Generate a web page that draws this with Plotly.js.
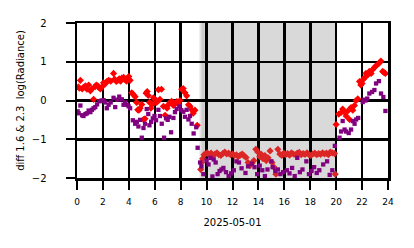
<!DOCTYPE html>
<html>
<head>
<meta charset="utf-8">
<script src="https://cdn.plot.ly/plotly-3.0.1.min.js"></script>
<style>html,body{margin:0;padding:0;background:#fff;}#chart{width:414px;height:248px;}</style>
</head>
<body>
<div id="chart"></div>
<script>
// Hours of day (2025-05-01) and diff values
const dateLabel = "2025-05-01";
const yTitle = "diff 1.6 & 2.3\u00a0 log(Radiance)";
const xTicks = [0, 2, 4, 6, 8, 10, 12, 14, 16, 18, 20, 22, 24];
const yTicks = [-2, -1, 0, 1, 2];
const nightStart = 9.5;
const nightEnd = 19.95;

// red series (diamonds)
const redHours = [
  0.1, 0.18, 0.26, 0.4, 0.5, 0.65, 0.77, 0.9, 1.03, 1.15, 1.28, 1.4, 1.49, 1.6, 1.67, 1.8, 1.95, 2.05, 2.18, 2.3,
  2.44, 2.6, 2.82, 2.9, 3.03, 3.15, 3.26, 3.36, 3.46, 3.6, 3.72, 3.82, 3.9, 4.0, 4.1, 4.23, 4.35, 4.49, 4.6, 4.69,
  4.78, 4.87, 5.0, 5.13, 5.25, 5.33, 5.42, 5.5, 5.6, 5.7, 5.8, 5.9, 6.05, 6.15, 6.28, 6.4, 6.52, 6.67, 6.8, 6.95,
  7.05, 7.18, 7.3, 7.44, 7.55, 7.7, 7.85, 7.95, 8.08, 8.2, 8.33, 8.46, 8.6, 8.72, 8.85, 8.97, 9.1, 9.28,
  9.54, 9.62, 9.7, 9.8, 9.9, 10.05, 10.2, 10.35, 10.5, 10.65, 10.8, 10.95, 11.1, 11.25, 11.4, 11.55, 11.7, 11.85,
  12.0, 12.15, 12.3, 12.45, 12.6, 12.75, 12.9, 13.05, 13.2, 13.35, 13.5, 13.65, 13.8, 13.95, 14.1, 14.2, 14.35,
  14.5, 14.6, 14.75, 14.9, 15.05, 15.2, 15.35, 15.5, 15.65, 15.8, 15.95, 16.1, 16.25, 16.4, 16.55, 16.7, 16.85,
  17.0, 17.15, 17.3, 17.45, 17.6, 17.75, 17.9, 18.05, 18.2, 18.35, 18.5, 18.65, 18.8, 18.95, 19.1, 19.25, 19.4,
  19.55, 19.7, 19.87, 19.93,
  20.0, 20.2, 20.38, 20.5, 20.65, 20.77, 20.9, 21.03, 21.15, 21.28, 21.41, 21.54, 21.67, 21.8, 21.9, 22.0, 22.1,
  22.18, 22.3, 22.44, 22.56, 22.7, 22.82, 22.95, 23.08, 23.2, 23.33, 23.45, 23.59, 23.7, 23.8
];
const redValues = [
  0.35, 0.32, 0.52, 0.3, 0.34, 0.38, 0.29, 0.40, 0.25, 0.3, 0.03, 0.36, 0.40, 0.38, 0.34, 0.3, 0.36, 0.46, 0.43, 0.49,
  0.52, 0.5, 0.70, 0.55, 0.49, 0.52, 0.56, 0.5, 0.58, 0.6, 0.54, 0.5, 0.58, 0.62, 0.52, 0.2, 0.15, 0.1, -0.05, -0.24,
  -0.25, -0.2, -0.1, -0.49, -0.47, 0.19, 0.23, 0.13, -0.05, -0.2, -0.1, 0.07, 0.02, -0.05, 0.28, 0.03, 0.29, -0.15, -0.38, -0.2,
  -0.11, -0.05, -0.02, -0.13, -0.08, -0.03, -0.1, 0.0, 0.29, 0.31, 0.2, 0.12, -0.11, -0.15, -0.24, -0.33, -0.25, -0.64,
  -1.78, -1.6, -1.5, -1.4, -1.38, -1.35, -1.4, -1.36, -1.42, -1.38, -1.35, -1.4, -1.42, -1.37, -1.33, -1.38, -1.36, -1.4,
  -1.38, -1.42, -1.4, -1.45, -1.41, -1.38, -1.43, -1.47, -1.6, -1.68, -1.62, -1.55, -1.26, -1.33, -1.45, -1.38, -1.5,
  -1.42, -1.55, -1.48, -1.3, -1.6, -1.72, -1.9, -1.26, -1.38, -1.42, -1.36, -1.4, -1.37, -1.41, -1.35, -1.38, -1.4,
  -1.36, -1.34, -1.4, -1.37, -1.39, -1.35, -1.4, -1.42, -1.38, -1.36, -1.4, -1.37, -1.39, -1.35, -1.38, -1.36, -1.4,
  -1.33, -1.35, -1.37, -1.9,
  -0.62, -0.35, -0.31, -0.22, -0.3, -0.4, -0.27, -0.49, -0.18, -0.25, -0.13, 0.0, 0.04, 0.49, 0.4, 0.44, 0.55,
  0.58, 0.7, 0.66, 0.75, 0.7, 0.8, 0.85, 0.9, 0.93, 0.97, 1.02, 0.75, 0.72, 0.7
];

// purple series (squares)
const purpleHours = [
  0.05, 0.13, 0.26, 0.4, 0.5, 0.65, 0.77, 0.9, 1.03, 1.15, 1.28, 1.41, 1.55, 1.74, 1.9, 2.05, 2.18, 2.3, 2.44, 2.6,
  2.82, 2.95, 3.1, 3.26, 3.46, 3.59, 3.72, 3.85, 3.98, 4.1, 4.31, 4.49, 4.62, 4.74, 4.87, 5.0, 5.13, 5.25, 5.38, 5.5,
  5.59, 5.72, 5.85, 5.98, 6.1, 6.28, 6.4, 6.54, 6.72, 6.87, 7.0, 7.13, 7.26, 7.44, 7.56, 7.69, 7.9, 8.05, 8.2, 8.33,
  8.46, 8.6, 8.72, 8.85, 9.0, 9.2, 9.31,
  9.5, 9.6, 9.75, 10.0, 10.15, 10.3, 10.45, 10.55, 10.7, 10.85, 11.0, 11.15, 11.3, 11.5, 11.7, 11.9, 12.1, 12.3,
  12.5, 12.7, 13.0, 13.2, 13.5, 13.7, 13.9, 14.1, 14.3, 14.5, 14.7, 15.0, 15.1, 15.3, 15.5, 15.7, 15.9, 16.2, 16.4,
  16.6, 16.8, 17.0, 17.2, 17.4, 17.7, 17.9, 18.1, 18.3, 18.5, 18.7, 19.0, 19.3, 19.5, 19.7, 19.9,
  20.26, 20.38, 20.5, 20.65, 20.77, 20.97, 21.15, 21.28, 21.42, 21.54, 21.7, 22.05, 22.15, 22.26, 22.4, 22.56,
  22.77, 22.95, 23.08, 23.3, 23.46, 23.64, 23.8
];
const purpleValues = [
  -0.28, -0.33, -0.13, -0.38, -0.40, -0.35, -0.33, -0.26, -0.3, -0.24, -0.2, -0.17, -0.1, -0.02, 0.0, 0.01, -0.05, -0.2, -0.11, -0.05,
  0.07, -0.17, 0.02, 0.1, 0.03, -0.11, -0.05, -0.11, -0.15, -0.2, -0.51, -0.6, -0.55, -0.67, -0.5, -0.96, -0.71, -0.6, -0.22, -0.35,
  -0.64, -0.55, -0.46, -0.4, -0.51, -0.24, -0.4, -0.6, -0.96, -0.46, -0.5, -0.42, -0.82, -0.45, -0.3, -0.22, -0.15, -0.25, -0.29, -0.42,
  -0.24, -0.49, -0.4, -0.6, -0.85, -0.69, -1.22,
  -1.6, -1.7, -1.9, -1.55, -1.65, -1.48, -1.96, -1.52, -1.6, -1.9, -1.82, -1.78, -1.74, -1.85, -1.95, -1.88, -1.8, -1.57,
  -1.6, -1.75, -1.87, -1.7, -1.63, -1.72, -1.9, -1.68, -1.8, -1.95, -1.78, -1.57, -1.72, -1.82, -1.78, -1.9, -1.85, -1.8, -1.88,
  -1.74, -1.95, -1.48, -1.85, -1.78, -1.57, -1.9, -1.82, -1.72, -1.87, -1.8, -1.65, -1.57, -1.92, -1.8, -1.17,
  -0.96, -0.8, -0.53, -0.75, -0.8, -0.84, -0.75, -0.53, -0.6, -0.49, -0.45, -0.04, 0.02, 0.0, 0.05, 0.18,
  0.22, 0.27, 0.44, 0.5, 0.18, 0.09, -0.27
];

const inNight = h => h >= nightStart && h <= nightEnd;
const redColors = redHours.map(h => inNight(h) ? '#dc2626' : '#ff0000');

const font = {family: 'DejaVu Sans', size: 9, color: '#000'};

const traces = [
  {
    x: redHours, y: redValues, type: 'scatter', mode: 'markers',
    marker: {symbol: 'diamond', size: 5.5, color: redColors, line: {width: 0}},
    hoverinfo: 'skip'
  },
  {
    x: purpleHours, y: purpleValues, type: 'scatter', mode: 'markers',
    marker: {symbol: 'square', size: 4.3, color: '#800080', line: {width: 0}},
    hoverinfo: 'skip'
  }
];

const layout = {
  width: 414, height: 248,
  margin: {l: 77, r: 26, t: 23, b: 70},
  paper_bgcolor: '#fff', plot_bgcolor: '#fff',
  showlegend: false,
  font: font,
  xaxis: {
    range: [0, 24], tickvals: xTicks, ticktext: xTicks.map(String),
    showgrid: true, gridcolor: '#000', gridwidth: 2.5,
    showline: true, mirror: true, linecolor: '#000', linewidth: 2.5,
    zeroline: false,
    ticks: 'outside', ticklen: 9, tickwidth: 2, tickcolor: '#000',
    ticklabelstandoff: 5,
    tickfont: {family: 'DejaVu Sans', size: 9, color: '#000'},
    title: {text: dateLabel, font: {family: 'DejaVu Sans', size: 10, color: '#000'}, standoff: 13}
  },
  yaxis: {
    range: [-2, 2], tickvals: yTicks,
    showgrid: true, gridcolor: '#000', gridwidth: 2.5,
    showline: true, mirror: true, linecolor: '#000', linewidth: 2.5,
    zeroline: false,
    ticks: 'outside', ticklen: 9, tickwidth: 2, tickcolor: '#000',
    ticklabelstandoff: 17,
    tickfont: {family: 'DejaVu Sans', size: 10, color: '#000'},
    title: {text: yTitle, font: {family: 'DejaVu Sans', size: 10, color: '#000'}, standoff: 6}
  },
  shapes: [
    {type: 'rect', xref: 'x', yref: 'paper', x0: nightStart - 0.05, x1: nightStart + 0.1, y0: 0, y1: 1,
     fillcolor: '#e4e4e4', line: {width: 0}, layer: 'below'},
    {type: 'rect', xref: 'x', yref: 'paper', x0: nightStart + 0.1, x1: nightEnd, y0: 0, y1: 1,
     fillcolor: '#d9d9d9', line: {width: 0}, layer: 'below'},
    {type: 'rect', xref: 'x', yref: 'paper', x0: nightStart + 0.1, x1: nightStart + 0.35, y0: 0, y1: 1,
     fillcolor: '#cdcdcd', line: {width: 0}, layer: 'below'}
  ]
};

Plotly.newPlot('chart', traces, layout, {displayModeBar: false, staticPlot: true});
</script>
</body>
</html>
